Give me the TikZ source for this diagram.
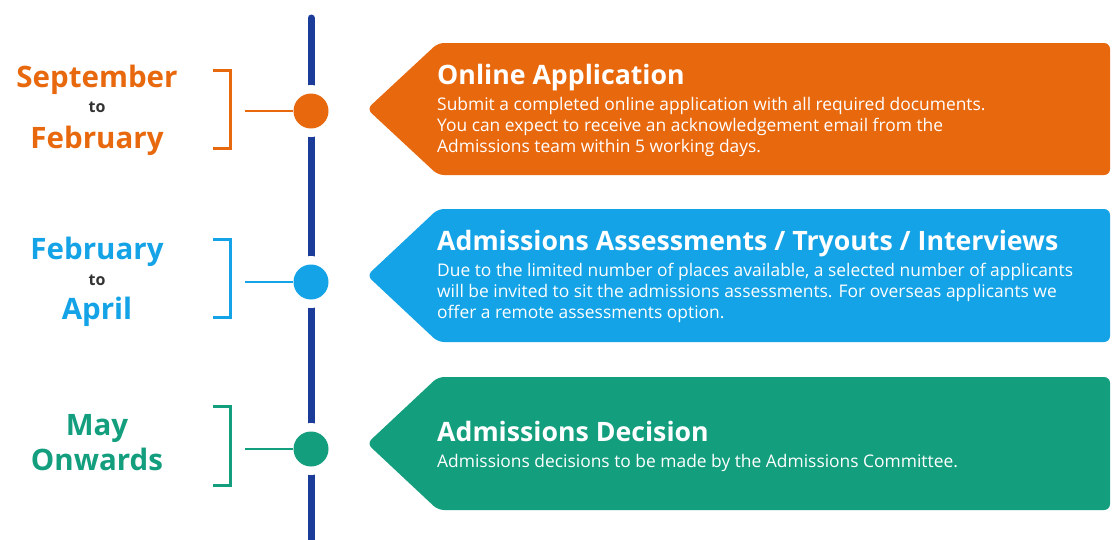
\documentclass[tikz,border=0pt]{standalone}
\usepackage{fontspec}
\setmainfont{Open Sans}
\usetikzlibrary{calc}
\definecolor{stepOrange}{HTML}{E8680E}
\definecolor{stepBlue}{HTML}{14A3E6}
\definecolor{stepGreen}{HTML}{139E7E}
\definecolor{lineBlue}{HTML}{1C3C9A}
\definecolor{toGray}{HTML}{333333}
\def\arrowbox[#1](#2:#3){\fill[#1,rounded corners=6pt] (1110,#2) -- (438,#2) -- (367,{(#2+#3)/2}) -- (438,#3) -- (1110,#3) -- cycle;}
\def\bracket[#1](#2:#3){\draw[#1,line width=3pt] (213,#2) -- (230,#2) -- (230,#3) -- (213,#3);}

\begin{document}
\begin{tikzpicture}[x=1pt,y=-1pt,
		gap/.style={circle,fill=white,minimum size=52pt,inner sep=0pt},
		dot/.style={circle,fill=#1,minimum size=35pt,inner sep=0pt},
		month/.style={anchor=base,text=#1,font=\bfseries\fontsize{29.5}{32}\selectfont},
		tolabel/.style={anchor=base,text=toGray,font=\bfseries\fontsize{16}{18}\selectfont},
		title/.style={anchor=base west,text=white,inner sep=0pt,font=\bfseries\fontsize{26.7}{30}\selectfont},
		body/.style={anchor=north west,text=white,inner sep=0pt,align=left,font=\fontsize{17.4}{20.8}\selectfont},
		link/.style={line width=2.5pt,draw=#1}]
		%%%%% START %%%%%
		\useasboundingbox (0,0) rectangle (1113,539);
		
		% timeline
		\draw[lineBlue,line width=7pt,line cap=round] (311,18) -- (311,545);
		\node[gap] (g1) at (311,111) {};
		\node[gap] (g2) at (311,282) {};
		\node[gap] (g3) at (311,449) {};
		
		% arrow boxes
		\arrowbox[stepOrange](43:175)
		\arrowbox[stepBlue](209:342)
		\arrowbox[stepGreen](377:510)
		
		% brackets
		\bracket[stepOrange](70:148)
		\bracket[stepBlue](239:317)
		\bracket[stepGreen](406:485)
		
		% dots and links
		\node[dot=stepOrange] (d1) at (311,111) {};
		\node[dot=stepBlue] (d2) at (311,282) {};
		\node[dot=stepGreen] (d3) at (311,449) {};
		\coordinate (c1) at (245,111);
		\coordinate (c2) at (245,282);
		\coordinate (c3) at (245,449);
		\draw[link=stepOrange] (c1) -- (d1);
		\draw[link=stepBlue] (c2) -- (d2);
		\draw[link=stepGreen] (c3) -- (d3);
		
		% dates
		\node[month=stepOrange] (m1a) at (97,87) {September};
		\node[tolabel] (t1) at (97,112) {to};
		\node[month=stepOrange] (m1b) at (97,148) {February};
		\node[month=stepBlue] (m2a) at (97,259) {February};
		\node[tolabel] (t2) at (97,285) {to};
		\node[month=stepBlue] (m2b) at (97,319) {April};
		\node[month=stepGreen] (m3a) at (97,435) {May};
		\node[month=stepGreen] (m3b) at (97,470) {Onwards};
		
		% texts
		\node[title] (h1) at (437,84) {Online Application};
		\node[body] (b1) at (437,97) {Submit a completed online application with all required documents.\\You can expect to receive an acknowledgement email from the\\Admissions team within 5 working days.};
		\node[title] (h2) at (437,250) {Admissions Assessments / Tryouts / Interviews};
		\node[body] (b2) at (437,263) {Due to the limited number of places available, a selected number of applicants\\will be invited to sit the admissions assessments. For overseas applicants we\\offer a remote assessments option.};
		\node[title] (h3) at (437,441) {Admissions Decision};
		\node[body] (b3) at (437,454) {Admissions decisions to be made by the Admissions Committee.};
		%%%%% END %%%%%
	\end{tikzpicture}
\end{document}
